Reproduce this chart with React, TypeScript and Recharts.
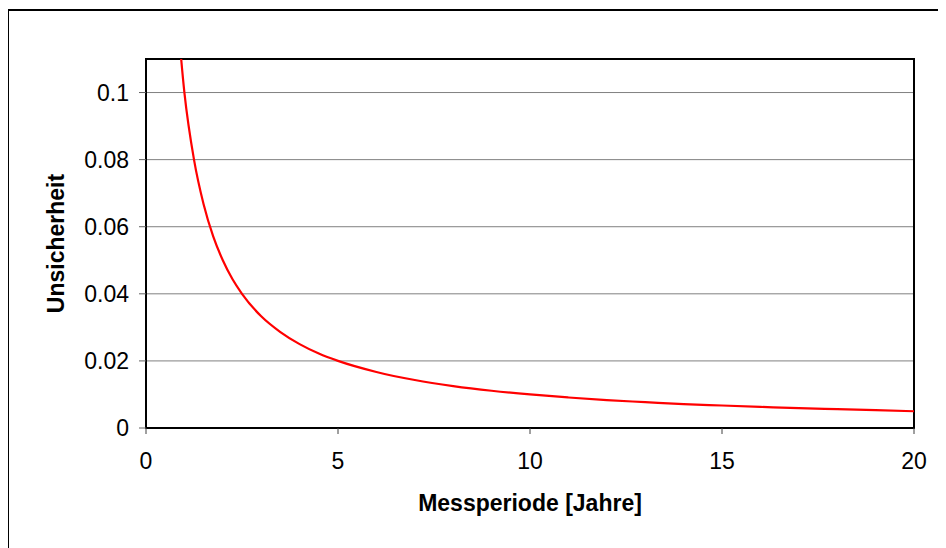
import React from "react";
import {
  LineChart,
  Line,
  XAxis,
  YAxis,
  CartesianGrid,
  ReferenceArea,
} from "recharts";

const periodYears = [
  0.75, 1, 1.25, 1.5, 1.75, 2, 2.25, 2.5, 3, 3.5, 4, 4.5, 5, 6, 7, 8, 9, 10, 11,
  12, 13, 14, 15, 16, 17, 18, 19, 20,
];
const uncertainty = [
  0.133, 0.1, 0.08, 0.0667, 0.0571, 0.05, 0.0444, 0.04, 0.0333, 0.0286, 0.025,
  0.0222, 0.02, 0.0167, 0.0143, 0.0125, 0.0111, 0.01, 0.0091, 0.0083, 0.0077,
  0.0071, 0.0067, 0.0063, 0.0059, 0.0056, 0.0053, 0.005,
];
const xTicks = [0, 5, 10, 15, 20];
const yTicks = [0, 0.02, 0.04, 0.06, 0.08, 0.1];
const xDomain = [0, 20];
const yDomain = [0, 0.11];
const xTitle = "Messperiode [Jahre]";
const yTitle = "Unsicherheit";

const data = periodYears.map((x, i) => ({ x, y: uncertainty[i] }));

const FONT = "'Liberation Sans', Arial, sans-serif";

export default function App() {
  return (
    <div
      style={{
        position: "relative",
        width: 939,
        height: 539,
        marginTop: 1,
        marginLeft: -1,
        fontFamily: FONT,
      }}
    >
      <div
        style={{
          position: "absolute",
          left: 0,
          top: 0,
          width: 1000,
          height: 600,
          borderTop: "2px solid #000",
          borderLeft: "2px solid #000",
          boxSizing: "border-box",
        }}
      />
      <div style={{ position: "absolute", left: 0, top: 0 }}>
        <LineChart
          width={939}
          height={539}
          data={data}
          margin={{ top: 50, right: 32, bottom: 40, left: 0 }}
        >
          <CartesianGrid
            horizontal={true}
            vertical={false}
            stroke="#808080"
            strokeWidth={1}
          />
          <XAxis
            type="number"
            dataKey="x"
            domain={xDomain}
            ticks={xTicks}
            interval={0}
            allowDataOverflow
            height={80}
            tickSize={6}
            tickMargin={19}
            axisLine={{ stroke: "#000", strokeWidth: 2 }}
            tickLine={{ stroke: "#404040", strokeWidth: 1 }}
            tick={{ fill: "#000", fontSize: 23, fontFamily: FONT }}
            label={{
              value: xTitle,
              position: "insideTop",
              offset: 67,
              style: {
                fontSize: 23,
                fontWeight: "bold",
                fill: "#000",
                fontFamily: FONT,
              },
            }}
          />
          <YAxis
            type="number"
            domain={yDomain}
            ticks={yTicks}
            interval={0}
            allowDataOverflow
            width={139}
            tickSize={7}
            tickMargin={10}
            axisLine={{ stroke: "#000", strokeWidth: 2 }}
            tickLine={{ stroke: "#606060", strokeWidth: 1 }}
            tick={{ fill: "#000", fontSize: 23, fontFamily: FONT }}
            label={{
              value: yTitle,
              angle: -90,
              position: "insideLeft",
              offset: 49,
              style: {
                textAnchor: "middle",
                fontSize: 23,
                fontWeight: "bold",
                fill: "#000",
                fontFamily: FONT,
              },
            }}
          />
          <Line
            type="monotone"
            dataKey="y"
            stroke="#FF0000"
            strokeWidth={2.2}
            dot={false}
            activeDot={false}
            isAnimationActive={false}
          />
          <ReferenceArea
            x1={xDomain[0]}
            x2={xDomain[1]}
            y1={yDomain[0]}
            y2={yDomain[1]}
            fill="none"
            stroke="#000"
            strokeWidth={2}
            ifOverflow="visible"
          />
        </LineChart>
      </div>
    </div>
  );
}
